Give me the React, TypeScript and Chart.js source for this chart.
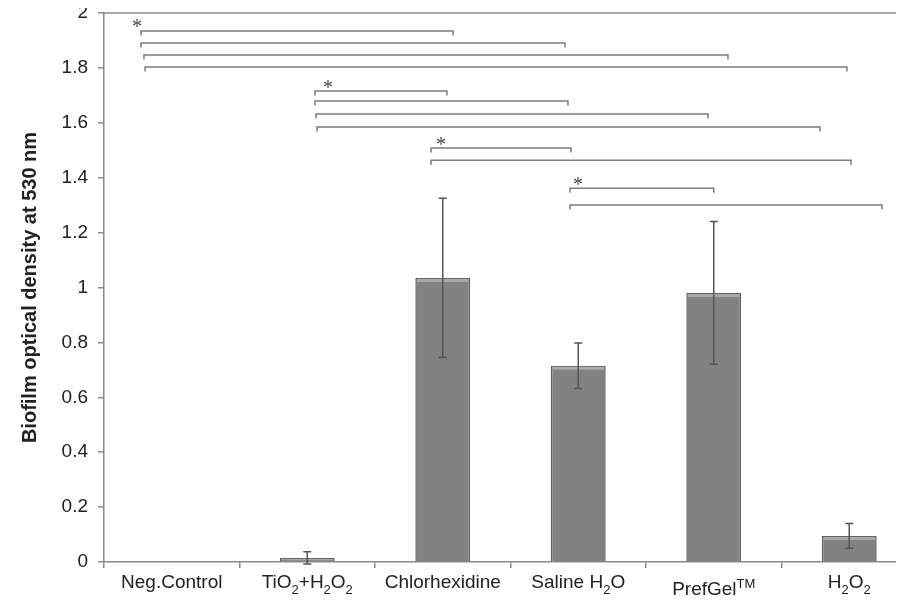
import { useEffect, useRef } from "react";
import { Chart, registerables } from "chart.js";

Chart.register(...registerables);

// ---- data ----
const categories = ["Neg.Control", "TiO₂+H₂O₂", "Chlorhexidine", "Saline H₂O", "PrefGel™", "H₂O₂"];
const means = [0, 0.015, 1.035, 0.715, 0.98, 0.095];
const errors = [0, 0.022, 0.29, 0.083, 0.26, 0.045];
const yMin = 0;
const yMax = 2;
const yStep = 0.2;
const yTitle = "Biofilm optical density at 530 nm";

// significance brackets (x in category-index units, level in y units)
const bracketFrom = [-0.227, -0.227, -0.205, -0.197, 1.057, 1.057, 1.065, 1.072, 1.913, 1.913, 2.939, 2.939];
const bracketTo = [2.076, 2.902, 4.105, 4.983, 2.031, 2.924, 3.958, 4.784, 2.947, 5.013, 4.0, 5.242];
const bracketLevel = [1.934, 1.891, 1.847, 1.803, 1.716, 1.679, 1.632, 1.585, 1.508, 1.464, 1.362, 1.301];
const starX = [-0.256, 1.153, 1.987, 2.998];
const starY = [1.967, 1.745, 1.537, 1.392];
const starText = "*";

const FONT = '"Liberation Sans", Arial, Helvetica, sans-serif';

function drawRichLabel(ctx: CanvasRenderingContext2D, text: string, cx: number, cy: number) {
  const segs: { t: string; kind: "n" | "sub" | "sup" }[] = [];
  for (const ch of Array.from(text)) {
    let kind: "n" | "sub" | "sup" = "n";
    let t = ch;
    if (ch === "₂") { kind = "sub"; t = "2"; }
    else if (ch === "™") { kind = "sup"; t = "TM"; }
    const last = segs[segs.length - 1];
    if (last && last.kind === kind) last.t += t;
    else segs.push({ t, kind });
  }
  const mainFont = `19px ${FONT}`;
  const smallFont = `13px ${FONT}`;
  let total = 0;
  const widths: number[] = [];
  for (const s of segs) {
    ctx.font = s.kind === "n" ? mainFont : smallFont;
    const w = ctx.measureText(s.t).width;
    widths.push(w);
    total += w;
  }
  const hasSup = segs.some((s) => s.kind === "sup");
  const baseY = cy + (hasSup ? 7 : 0);
  let x = cx - total / 2;
  ctx.textAlign = "left";
  ctx.textBaseline = "middle";
  ctx.fillStyle = "#222";
  segs.forEach((s, i) => {
    ctx.font = s.kind === "n" ? mainFont : smallFont;
    const dy = s.kind === "sub" ? 7 : s.kind === "sup" ? -6 : 0;
    ctx.fillText(s.t, x, baseY + dy);
    x += widths[i];
  });
}

const decorPlugin = {
  id: "decor",
  beforeDatasetsDraw(chart: any) {
    const { ctx, chartArea } = chart;
    ctx.save();
    ctx.strokeStyle = "#8a8a8a";
    ctx.lineWidth = 1.5;
    ctx.beginPath();
    ctx.moveTo(chartArea.left, chartArea.top);
    ctx.lineTo(chartArea.right, chartArea.top);
    ctx.stroke();
    ctx.restore();
  },
  afterDatasetsDraw(chart: any) {
    const { ctx } = chart;
    const xs = chart.scales.x;
    const ys = chart.scales.y;
    const meta = chart.getDatasetMeta(0);
    ctx.save();
    // top highlight on bars
    meta.data.forEach((bar: any, i: number) => {
      if (means[i] <= 0) return;
      const w = bar.width;
      const top = bar.y;
      const h = Math.min(3, bar.base - top - 2);
      if (h > 0) {
        ctx.fillStyle = "#a9a9a9";
        ctx.fillRect(bar.x - w / 2 + 1.5, top + 1, w - 3, h);
      }
    });
    // error bars
    ctx.strokeStyle = "#555";
    ctx.lineWidth = 1.5;
    meta.data.forEach((bar: any, i: number) => {
      const e = errors[i];
      if (!e) return;
      const x = bar.x;
      const yt = ys.getPixelForValue(means[i] + e);
      const yb = ys.getPixelForValue(means[i] - e);
      ctx.beginPath();
      ctx.moveTo(x, yt);
      ctx.lineTo(x, yb);
      ctx.moveTo(x - 4, yt);
      ctx.lineTo(x + 4, yt);
      ctx.moveTo(x - 4, yb);
      ctx.lineTo(x + 4, yb);
      ctx.stroke();
    });
    // brackets
    ctx.strokeStyle = "#7c7c7c";
    ctx.lineWidth = 1.5;
    for (let i = 0; i < bracketFrom.length; i++) {
      const x1 = xs.getPixelForValue(bracketFrom[i]);
      const x2 = xs.getPixelForValue(bracketTo[i]);
      const y = ys.getPixelForValue(bracketLevel[i]);
      ctx.beginPath();
      ctx.moveTo(x1, y + 4.5);
      ctx.lineTo(x1, y);
      ctx.lineTo(x2, y);
      ctx.lineTo(x2, y + 4.5);
      ctx.stroke();
    }
    // stars
    ctx.fillStyle = "#444";
    ctx.font = '20px "Liberation Serif", "DejaVu Serif", serif';
    ctx.textAlign = "center";
    ctx.textBaseline = "alphabetic";
    for (let i = 0; i < starX.length; i++) {
      const x = xs.getPixelForValue(starX[i]);
      const y = ys.getPixelForValue(starY[i]);
      ctx.fillText(starText, x, y + 11);
    }
    // x labels
    const labelY = xs.top + 21;
    categories.forEach((c, i) => {
      drawRichLabel(ctx, c, xs.getPixelForValue(i), labelY);
    });
    ctx.restore();
  },
};

export default function App() {
  const ref = useRef<HTMLCanvasElement | null>(null);
  useEffect(() => {
    if (!ref.current) return;
    const chart = new Chart(ref.current, {
      type: "bar",
      data: {
        labels: categories,
        datasets: [
          {
            data: means,
            backgroundColor: "#828282",
            borderColor: "#5e5e5e",
            borderWidth: 1.5,
            barPercentage: 0.405,
            categoryPercentage: 1,
          },
        ],
      },
      options: {
        animation: false,
        responsive: true,
        maintainAspectRatio: false,
        layout: { padding: { left: 0, right: 3, top: 13, bottom: 0 } },
        plugins: {
          legend: { display: false },
          tooltip: { enabled: false },
          title: { display: false },
        },
        scales: {
          x: {
            type: "category",
            offset: true,
            grid: {
              offset: true,
              drawOnChartArea: false,
              drawTicks: true,
              tickLength: 6,
              color: "#8a8a8a",
              lineWidth: 1.5,
            },
            border: { color: "#8a8a8a", width: 1.5 },
            ticks: { display: false },
            afterFit: (s: any) => {
              s.height = 45;
              s.paddingLeft = 0;
              s.paddingRight = 0;
            },
          },
          y: {
            min: yMin,
            max: yMax,
            grid: {
              drawOnChartArea: false,
              drawTicks: true,
              tickLength: 6,
              color: "#8a8a8a",
              lineWidth: 1.5,
            },
            border: { color: "#8a8a8a", width: 1.5 },
            ticks: {
              stepSize: yStep,
              padding: 10,
              color: "#222",
              font: { family: FONT, size: 19 },
              callback: (v: any) => String(Number(Number(v).toFixed(1))),
            },
            title: {
              display: true,
              text: yTitle,
              color: "#222",
              font: { family: FONT, size: 20, weight: "bold" },
              padding: { top: 18, bottom: 0 },
            },
            afterFit: (s: any) => {
              s.width = 104;
              s.paddingTop = 0;
              s.paddingBottom = 0;
            },
          },
        },
      },
      plugins: [decorPlugin],
    });
    return () => chart.destroy();
  }, []);
  return (
    <div style={{ marginTop: -8, marginLeft: -8, width: 904, height: 607, overflow: "hidden", background: "#fff" }}>
      <div style={{ position: "relative", width: 920, height: 607 }}>
        <canvas ref={ref} />
      </div>
    </div>
  );
}
